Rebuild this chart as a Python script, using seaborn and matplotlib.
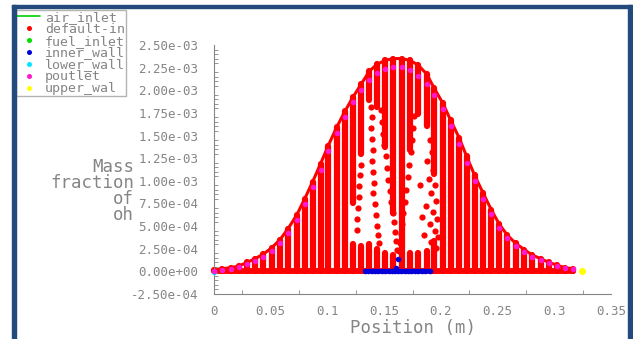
import numpy as np
import matplotlib
matplotlib.use("Agg")
import matplotlib.pyplot as plt
import seaborn as sns
from matplotlib.lines import Line2D
from matplotlib.patches import Rectangle
from matplotlib.ticker import FuncFormatter, MultipleLocator

# ---- data: mass fraction of OH along x, per surface zone ----
# default-interior nodes: one mesh column per station, spanning 0..top
col_x = [0.0000, 0.0070, 0.0147, 0.0220, 0.0294, 0.0361, 0.0435, 0.0508, 0.0582,
         0.0652, 0.0729, 0.0799, 0.0870, 0.0940, 0.1008, 0.1081, 0.1155, 0.1228,
         0.1299, 0.1369, 0.1440, 0.1510, 0.1581, 0.1654, 0.1728, 0.1798, 0.1875,
         0.1942, 0.2016, 0.2086, 0.2163, 0.2227, 0.2298, 0.2374, 0.2445, 0.2515,
         0.2586, 0.2659, 0.2736, 0.2806, 0.2880, 0.2950, 0.3021, 0.3094, 0.3162]
col_top = [0.00001, 0.00003, 0.00004, 0.00006, 0.00010, 0.00014, 0.00019, 0.00026,
           0.00035, 0.00047, 0.00062, 0.00080, 0.00099, 0.00119, 0.00139, 0.00159,
           0.00177, 0.00193, 0.00207, 0.00221, 0.00229, 0.00233, 0.00235, 0.00235,
           0.00233, 0.00228, 0.00218, 0.00202, 0.00186, 0.00167, 0.00147, 0.00127,
           0.00106, 0.00086, 0.00068, 0.00052, 0.00040, 0.00031, 0.00024, 0.00018,
           0.00014, 0.00010, 0.00007, 0.00004, 0.00003]
# columns with an empty stretch (no nodes between gap_lo and gap_hi)
gap_x = [0.1228, 0.1299, 0.1369, 0.1440, 0.1510, 0.1581, 0.1728, 0.1798, 0.1875, 0.1942]
gap_lo = [0.00030, 0.00028, 0.00030, 0.00025, 0.00020, 0.00018, 0.00020, 0.00020,
          0.00023, 0.00034]
gap_hi = [0.00075, 0.00130, 0.00189, 0.00182, 0.00137, 0.00064, 0.00134, 0.00174,
          0.00160, 0.00108]

# isolated default-interior nodes inside the empty stretches
left_arm_x = [0.1470, 0.1480, 0.1490, 0.1500, 0.1512, 0.1525, 0.1538, 0.1550,
              0.1562, 0.1575, 0.1588, 0.1598, 0.1607, 0.1614]
left_arm_y = [0.00178, 0.00165, 0.00152, 0.00140, 0.00127, 0.00114, 0.00101, 0.00089,
              0.00077, 0.00065, 0.00054, 0.00043, 0.00033, 0.00024]
right_arm_x = [0.1765, 0.1755, 0.1745, 0.1733, 0.1720, 0.1708, 0.1695, 0.1683,
               0.1670, 0.1658, 0.1648, 0.1640, 0.1633]
right_arm_y = [0.00172, 0.00158, 0.00145, 0.00132, 0.00118, 0.00104, 0.00090, 0.00077,
               0.00064, 0.00052, 0.00041, 0.00031, 0.00023]
left_void_x = [0.1385, 0.1395, 0.1380, 0.1392, 0.1400, 0.1392, 0.1402, 0.1410,
               0.1405, 0.1415, 0.1425, 0.1435, 0.1445, 0.1455,
               0.1300, 0.1290, 0.1280, 0.1275, 0.1268, 0.1262, 0.1258]
left_void_y = [0.00182, 0.00170, 0.00158, 0.00146, 0.00134, 0.00122, 0.00110, 0.00098,
               0.00086, 0.00074, 0.00062, 0.00050, 0.00040, 0.00031,
               0.00118, 0.00106, 0.00094, 0.00082, 0.00070, 0.00058, 0.00046]
right_void_x = [0.1900, 0.1920, 0.1880, 0.1935, 0.1895, 0.1950, 0.1915, 0.1960, 0.1870,
                0.1930, 0.1965, 0.1900, 0.1945, 0.1850, 0.1975, 0.1915, 0.1960, 0.1830,
                0.1815]
right_void_y = [0.00145, 0.00132, 0.00122, 0.00112, 0.00102, 0.00095, 0.00086, 0.00078,
                0.00072, 0.00066, 0.00058, 0.00052, 0.00045, 0.00040, 0.00038, 0.00032,
                0.00026, 0.00060, 0.00095]

poutlet_x = col_x
poutlet_y = [0.0, 0.000015, 0.000026, 0.000048, 0.000081, 0.000118, 0.000162, 0.000225,
             0.000310, 0.000424, 0.000572, 0.000741, 0.000933, 0.001125, 0.001327, 0.001527,
             0.001707, 0.001869, 0.002002, 0.002113, 0.002187, 0.002231, 0.002253, 0.002253,
             0.002223, 0.002161, 0.002065, 0.001943, 0.001788, 0.001604, 0.001405, 0.001202,
             0.000996, 0.000804, 0.000631, 0.000479, 0.000365, 0.000277, 0.000210, 0.000162,
             0.000125, 0.000092, 0.000063, 0.000037, 0.000022]

inner_x = [0.1331, 0.1360, 0.1390, 0.1420, 0.1450, 0.1480, 0.1510, 0.1540, 0.1570,
           0.1600, 0.1625, 0.1650, 0.1680, 0.1710, 0.1740, 0.1770, 0.1800, 0.1830,
           0.1860, 0.1904, 0.1606, 0.1625]
inner_y = [0.0, 0.0, 0.0, 0.0, 0.0, 0.0, 0.0, 0.0, 0.0,
           0.0, 0.0, 0.0, 0.0, 0.0, 0.0, 0.0, 0.0, 0.0,
           0.0, 0.0, 0.000037, 0.000133]

lower_x = [0.0]
lower_y = [-0.000005]
upper_x = [0.3241]
upper_y = [0.000008]

zone_names = ["air_inlet", "default-in", "fuel_inlet", "inner_wall",
              "lower_wall", "poutlet", "upper_wal"]
zone_colors = ["#00d000", "#ff0000", "#00e000", "#0000dd",
               "#00e8ff", "#ff18d0", "#ffff00"]

# ---- figure ----
W, H = 633, 339
sns.set_theme(style="white")
plt.rcParams["font.family"] = ["DejaVu Sans Mono", "DejaVu Sans"]
grey = "#858585"

fig = plt.figure(figsize=(W / 100, H / 100), dpi=100)
fig.patch.set_facecolor("white")

ax = fig.add_axes([214 / W, 1 - 294 / H, 397 / W, 249 / H])
ax.set_facecolor("white")

red = zone_colors[1]
segs_lo, segs_hi, segs_x = [], [], []
for x, top in zip(col_x, col_top):
    if x in gap_x:
        k = gap_x.index(x)
        segs_x += [x, x]
        segs_lo += [0.0, gap_hi[k]]
        segs_hi += [gap_lo[k], top]
    else:
        segs_x.append(x)
        segs_lo.append(0.0)
        segs_hi.append(top)
ax.vlines(segs_x, segs_lo, segs_hi, colors=red, linewidth=4.5,
          capstyle="round", clip_on=False, zorder=2)
# nodes crowding the outer edge and the axis line
ax.plot(col_x, col_top, color=red, linewidth=2.2, solid_capstyle="round",
        solid_joinstyle="round", clip_on=False, zorder=2)
ax.plot(col_x, np.zeros(len(col_x)), color=red, linewidth=4.2,
        solid_capstyle="round", clip_on=False, zorder=2)

for dx, dy in [(left_arm_x, left_arm_y), (right_arm_x, right_arm_y),
               (left_void_x, left_void_y), (right_void_x, right_void_y)]:
    sns.scatterplot(x=dx, y=dy, color=red, s=20, linewidth=0, ax=ax,
                    zorder=3, clip_on=False)
sns.scatterplot(x=inner_x, y=inner_y, color=zone_colors[3], s=16, linewidth=0,
                marker="o", ax=ax, zorder=4, clip_on=False)
ax.plot(inner_x[:20], inner_y[:20], color=zone_colors[3], linewidth=3.0,
        zorder=4, clip_on=False)
sns.scatterplot(x=lower_x, y=lower_y, color=zone_colors[4], s=16, linewidth=0,
                ax=ax, zorder=4, clip_on=False)
sns.scatterplot(x=poutlet_x, y=poutlet_y, color=zone_colors[5], s=16, linewidth=0,
                ax=ax, zorder=5, clip_on=False)
sns.scatterplot(x=upper_x, y=upper_y, color=zone_colors[6], s=26, linewidth=0,
                ax=ax, zorder=5, clip_on=False)

ax.set_xlim(0, 0.35)
ax.set_ylim(-0.00025, 0.0025)
for side in ("top", "right"):
    ax.spines[side].set_visible(False)
for side in ("left", "bottom"):
    ax.spines[side].set_color(grey)
    ax.spines[side].set_linewidth(0.8)

ax.xaxis.set_major_locator(MultipleLocator(0.05))
ax.xaxis.set_minor_locator(MultipleLocator(0.025))
ax.yaxis.set_major_locator(MultipleLocator(0.00025))
ax.yaxis.set_minor_locator(MultipleLocator(0.00005))
ax.xaxis.set_major_formatter(FuncFormatter(lambda v, p: "%g" % round(v, 3)))
ax.yaxis.set_major_formatter(FuncFormatter(lambda v, p: "%.2e" % v))
ax.tick_params(axis="y", which="major", direction="out", length=4.5, width=0.7,
               color=grey, labelcolor=grey, labelsize=9, pad=7)
ax.tick_params(axis="y", which="minor", direction="in", length=3, width=0.6,
               color=grey, left=True)
ax.tick_params(axis="x", which="major", direction="in", length=3.5, width=0.7,
               color=grey, labelcolor=grey, labelsize=9, pad=8)
ax.tick_params(axis="x", which="minor", direction="in", length=3, width=0.6,
               color=grey, bottom=True)

fig.text(413 / W, 1 - 328 / H, "Position (m)", ha="center", va="center",
         color=grey, fontsize=12.5)
fig.text(134 / W, 1 - 191 / H, "Mass\nfraction\nof\noh", ha="right", va="center",
         multialignment="right", color=grey, fontsize=12.5, linespacing=0.85)

# zone legend
handles = [Line2D([0], [0], color=zone_colors[0], linewidth=1.2)]
for c in zone_colors[1:]:
    handles.append(Line2D([0], [0], linestyle="none", marker="o", markersize=3.6,
                          markerfacecolor=c, markeredgewidth=0))
leg = fig.legend(handles, zone_names, loc="upper left",
                 bbox_to_anchor=(16 / W, 1 - 10 / H), fontsize=9.5,
                 frameon=True, fancybox=False, edgecolor="#a0a0a0",
                 borderpad=0.05, labelspacing=-0.08, handlelength=1.8,
                 handletextpad=0.35, borderaxespad=0)
leg.get_frame().set_linewidth(1.0)
for t in leg.get_texts():
    t.set_color(grey)

# window frame
frame_c = "#24497c"
fig.patches.append(Rectangle((12 / W, 0), 4 / W, 1 - 5 / H, transform=fig.transFigure,
                             color=frame_c, zorder=10))
fig.patches.append(Rectangle((628 / W, 0), 4 / W, 1 - 5 / H, transform=fig.transFigure,
                             color=frame_c, zorder=10))
fig.patches.append(Rectangle((12 / W, 1 - 8 / H), 620 / W, 3 / H, transform=fig.transFigure,
                             color=frame_c, zorder=10))

fig.savefig("out.png", dpi=100)
